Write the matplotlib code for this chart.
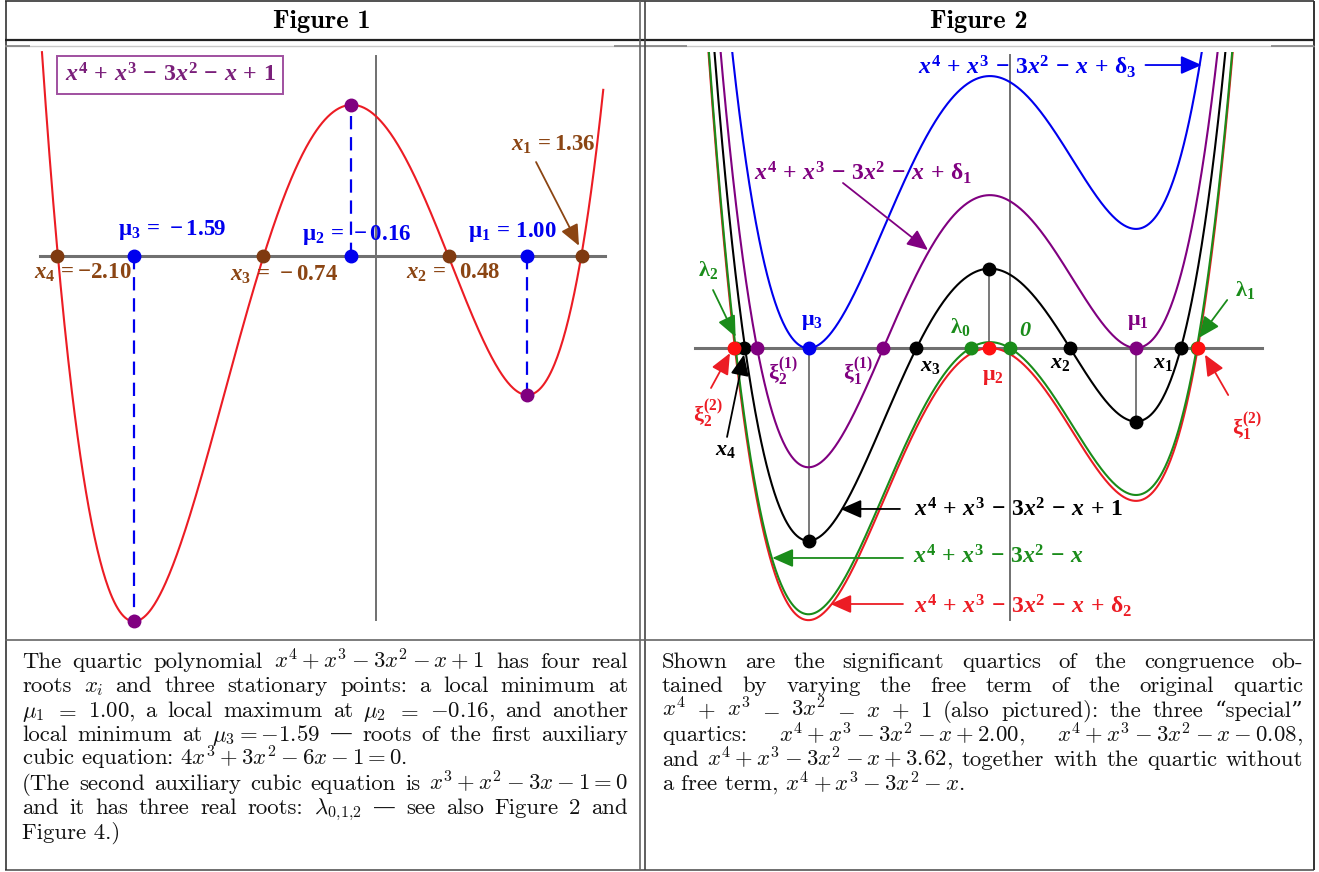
import numpy as np
import matplotlib
matplotlib.use("Agg")
import matplotlib.pyplot as plt

plt.rcParams['font.family'] = 'Liberation Serif'
plt.rcParams['font.weight'] = 'bold'
plt.rcParams['mathtext.fontset'] = 'custom'
plt.rcParams['mathtext.rm'] = 'Liberation Serif:bold'
plt.rcParams['mathtext.it'] = 'Liberation Serif:italic:bold'
plt.rcParams['mathtext.bf'] = 'Liberation Serif:bold'

W, H = 1319, 872

RED = '#ec1c24'
BROWN = '#8b4513'
BLUE = '#0000ee'
PURPLE = '#800080'
GREEN = '#1a8c1a'
GRAY = '#707070'

# x^4 + x^3 - 3x^2 - x, the free term is added on top
g_coef = [1, 1, -3, -1, 0]

# figure 1 : free term 1
f1_free = 1.0
x_roots = [-2.10, -0.74, 0.48, 1.36]
mu_vals = [1.00, -0.16, -1.59]
mu_y = [-1.00, 1.08, -2.62]

# figure 2 : the congruence
free_terms = [-0.08, 0.00, 1.00, 2.00, 3.62]
curve_cols = [RED, GREEN, 'black', PURPLE, BLUE]
lam_vals = [-0.31, 1.48, -2.17]
xi1_vals = [-1.00, -2.00]
xi2_vals = [1.49, -2.18]

cap1 = ["The quartic polynomial $x^4+x^3-3x^2-x+1$ has four real",
        "roots $x_i$ and three stationary points: a local minimum at",
        "$\\mu_1$ $=$ $1.00$, a local maximum at $\\mu_2$ $=$ $-0.16$, and another",
        "local minimum at $\\mu_3=-1.59$ \u2014 roots of the first auxiliary",
        "cubic equation: $4x^3+3x^2-6x-1=0$.",
        "(The second auxiliary cubic equation is $x^3+x^2-3x-1=0$",
        "and it has three real roots: $\\lambda_{0,\\!1,\\!2}$ \u2014 see also Figure 2 and",
        "Figure 4.)"]
cap1_just = [True, True, True, True, False, True, True, False]

cap2 = ["Shown are the significant quartics of the congruence ob-",
        "tained by varying the free term of the original quartic",
        "$x^4$ $+$ $x^3$ $-$ $3x^2$ $-$ $x$ $+$ $1$ (also pictured): the three \u201cspecial\u201d",
        "quartics: $x^4+x^3-3x^2-x+2.00$, $x^4+x^3-3x^2-x-0.08$,",
        "and $x^4+x^3-3x^2-x+3.62$, together with the quartic without",
        "a free term, $x^4+x^3-3x^2-x$."]
cap2_just = [True, True, True, True, True, False]

fig = plt.figure(figsize=(W / 100, H / 100), dpi=100)
bg = fig.add_axes([0, 0, 1, 1])
bg.set_xlim(0, W)
bg.set_ylim(H, 0)
bg.axis('off')

# table frame
def hl(y, x0, x1, c='#333333', lw=1.0):
    bg.plot([x0, x1], [y, y], color=c, lw=lw, solid_capstyle='butt')

def vl(x, y0, y1, c='#333333', lw=1.0):
    bg.plot([x, x], [y0, y1], color=c, lw=lw, solid_capstyle='butt')

hl(1.5, 5, 1314, lw=1.2)
hl(870, 5, 1314, c='#555555', lw=1.2)
vl(5.5, 1.5, 870, lw=1.2)
vl(1313.5, 1.5, 870, lw=1.4)
hl(40.5, 5, 1314, c='#222222', lw=1.6)
hl(46, 5, 1314, c='#c8c8c8', lw=1.0)
for a, b in [(5, 30), (614, 687), (1271, 1314)]:
    hl(46, a, b, c='#808080', lw=1.2)
vl(639.7, 1.5, 870, c='#666666', lw=1.2)
vl(644.7, 1.5, 870, c='#444444', lw=1.2)
hl(640, 5, 1314, c='#666666', lw=1.2)

bg.text(322, 28, 'Figure 1', family='cmb10', weight='normal', fontsize=19,
        ha='center', va='baseline')
bg.text(979, 28, 'Figure 2', family='cmb10', weight='normal', fontsize=19,
        ha='center', va='baseline')

# captions
renderer = fig.canvas.get_renderer()
cap_kw = dict(fontsize=16.4, family=['cmr10', 'DejaVu Serif'], math_fontfamily='cm',
              fontweight='normal', va='baseline', ha='left', color='#111111')

def put_line(s, x0, x1, y, just):
    if not just:
        bg.text(x0, y, s, **cap_kw)
        return
    toks = s.split(' ')
    ts = [bg.text(x0, y, t, **cap_kw) for t in toks]
    ws = [t.get_window_extent(renderer).width for t in ts]
    gap = (x1 - x0 - sum(ws)) / (len(ts) - 1)
    x = x0
    for t, w in zip(ts, ws):
        t.set_x(x)
        x += w + gap

for i, (s, j) in enumerate(zip(cap1, cap1_just)):
    put_line(s, 22, 628, 668 + 24.4 * i, j)
for i, (s, j) in enumerate(zip(cap2, cap2_just)):
    put_line(s, 662, 1303, 668 + 24.4 * i, j)


def px_axes(l, t, r, b):
    ax = fig.add_axes([l / W, 1 - b / H, (r - l) / W, (b - t) / H])
    ax.axis('off')
    return ax

def arrow(ax, start, end, c, lw=1.3, ms=17):
    ax.annotate('', xy=end, xytext=start,
                arrowprops=dict(arrowstyle='-|>,head_length=0.75,head_width=0.33',
                                color=c, lw=lw, shrinkA=0, shrinkB=0, mutation_scale=ms))

def lab(ax, x, y, s, c, fs, **kw):
    ax.text(x, y, s, color=c, fontsize=fs, ha='center', va='center', **kw)

POLY = r'x^4\,+\,x^3\,-\,3x^2\,-\,x'

# ---------------- Figure 1 ----------------
ax1 = px_axes(30, 47, 614, 634)
ax1.set_xlim((30 - 375.7) / 151.7, (614 - 375.7) / 151.7)
ax1.set_ylim((255.5 - 634) / 139.5, (255.5 - 47) / 139.5)

xs = np.linspace(-2.2, 1.5, 600)
f1 = np.array(g_coef[:-1] + [f1_free])
ax1.plot([-2.21, 1.51], [0, 0], color=GRAY, lw=2.2, zorder=1)
ax1.plot([0, 0], [1.43, -2.61], color=GRAY, lw=1.4, zorder=1)
ax1.plot(xs, np.polyval(f1, xs), color=RED, lw=1.5, zorder=2)
for m, my in zip(mu_vals, mu_y):
    ax1.plot([m, m], [0, my], color=BLUE, lw=1.6, ls=(0, (6, 3.5)), zorder=2)
ax1.plot(x_roots, [0] * 4, 'o', color='#7f3a10', ms=9, zorder=4)
ax1.plot(mu_vals, [0] * 3, 'o', color=BLUE, ms=9, zorder=4)
ax1.plot(mu_vals, mu_y, 'o', color=PURPLE, ms=9, zorder=4)

FS1 = 16.5
lab(ax1, -1.343, 0.183, r'$\mathrm{\mu}_3\,=\,-1.59$', BLUE, FS1)
lab(ax1, -0.123, 0.147, r'$\mathrm{\mu}_2\,=\,-0.16$', BLUE, FS1)
lab(ax1, 0.90, 0.168, r'$\mathrm{\mu}_1\,=\,1.00$', BLUE, FS1)
lab(ax1, -1.93, -0.125, r'$x_4\,=-2.10$', BROWN, FS1)
lab(ax1, -0.604, -0.14, r'$x_3\,=\,-0.74$', BROWN, FS1)
lab(ax1, 0.51, -0.125, r'$x_2\,=\;\;0.48$', BROWN, FS1)
lab(ax1, 1.17, 0.79, r'$x_1\,=1.36$', BROWN, FS1)
arrow(ax1, (1.057, 0.67), (1.34, 0.07), BROWN, lw=1.3, ms=17)
lab(ax1, -1.356, 1.294, '$' + POLY + r'\,+\,1$', '#7a1f7a', 17.2,
    bbox=dict(boxstyle='square,pad=0.3', fc='white', ec='#a050a0', lw=1.4))

# ---------------- Figure 2 ----------------
ax2 = px_axes(687, 52, 1271, 634)
ax2.set_xlim((687 - 1009.7) / 126.3, (1271 - 1009.7) / 126.3)
ax2.set_ylim((348 - 634) / 73.5, (348 - 52) / 73.5)

xs2 = np.linspace(-2.6, 2.1, 900)
ax2.plot([-2.49, 2.0], [0, 0], color=GRAY, lw=2.2, zorder=1)
ax2.plot([0, 0], [3.98, -3.70], color=GRAY, lw=1.4, zorder=1)
for c, col in zip(free_terms, curve_cols):
    p = np.array(g_coef[:-1] + [c])
    ax2.plot(xs2, np.polyval(p, xs2), color=col, lw=1.5, zorder=2)

# guide lines at the stationary points
for m, my in zip(mu_vals, mu_y):
    ax2.plot([m, m], [0, my], color='#555555', lw=1.1, zorder=1.5)

ms2 = 9
ax2.plot(lam_vals + [0.0], [0] * 4, 'o', color=GREEN, ms=ms2, zorder=4)
ax2.plot(xi2_vals + [mu_vals[1]], [0] * 3, 'o', color='#ff1010', ms=ms2, zorder=5)
ax2.plot(x_roots, [0] * 4, 'o', color='black', ms=ms2, zorder=4)
ax2.plot(mu_vals, mu_y, 'o', color='black', ms=ms2, zorder=4)
ax2.plot(xi1_vals + [mu_vals[0]], [0] * 3, 'o', color=PURPLE, ms=ms2, zorder=4)
ax2.plot([mu_vals[2]], [0], 'o', color=BLUE, ms=ms2, zorder=4)

FS2 = 17
lab(ax2, 0.137, 3.82, '$' + POLY + r'\,+\,\mathrm{\delta}_3$', BLUE, FS2)
arrow(ax2, (1.075, 3.85), (1.52, 3.85), BLUE)
lab(ax2, -1.162, 2.39, '$' + POLY + r'\,+\,\mathrm{\delta}_1$', PURPLE, FS2)
arrow(ax2, (-1.32, 2.245), (-0.647, 1.333), PURPLE)
lab(ax2, 0.066, -2.20, '$' + POLY + r'\,+\,1$', 'black', FS2)
arrow(ax2, (-0.869, -2.19), (-1.34, -2.19), 'black')
lab(ax2, -0.093, -2.84, '$' + POLY + '$', GREEN, FS2)
arrow(ax2, (-0.845, -2.857), (-1.88, -2.857), GREEN)
lab(ax2, 0.105, -3.50, '$' + POLY + r'\,+\,\mathrm{\delta}_2$', RED, FS2)
arrow(ax2, (-0.845, -3.483), (-1.42, -3.483), RED)

FS3 = 16
lab(ax2, -2.389, 1.06, r'$\mathrm{\lambda}_2$', GREEN, FS3)
arrow(ax2, (-2.349, 0.789), (-2.17, 0.15), GREEN)
lab(ax2, 1.865, 0.79, r'$\mathrm{\lambda}_1$', GREEN, FS3)
arrow(ax2, (1.722, 0.653), (1.50, 0.14), GREEN)
lab(ax2, -1.565, 0.354, r'$\mathrm{\mu}_3$', BLUE, FS3)
lab(ax2, 1.017, 0.354, r'$\mathrm{\mu}_1$', PURPLE, FS3)
lab(ax2, -0.394, 0.286, r'$\mathrm{\lambda}_0$', GREEN, FS3)
lab(ax2, 0.121, 0.231, '0', GREEN, FS3, style='italic')
lab(ax2, -1.80, -0.327, r'$\mathrm{\xi}_2^{(1)}$', PURPLE, FS3)
lab(ax2, -1.20, -0.327, r'$\mathrm{\xi}_1^{(1)}$', PURPLE, FS3)
lab(ax2, -0.632, -0.245, r'$x_3$', 'black', FS3)
lab(ax2, -0.132, -0.395, r'$\mathrm{\mu}_2$', RED, FS3)
lab(ax2, 0.398, -0.204, r'$x_2$', 'black', FS3)
lab(ax2, 1.214, -0.204, r'$x_1$', 'black', FS3)
lab(ax2, -2.389, -0.91, r'$\mathrm{\xi}_2^{(2)}$', RED, FS3)
arrow(ax2, (-2.365, -0.544), (-2.215, -0.07), RED)
lab(ax2, -2.254, -1.39, r'$x_4$', 'black', FS3)
arrow(ax2, (-2.238, -1.21), (-2.104, -0.09), 'black')
lab(ax2, 1.88, -1.075, r'$\mathrm{\xi}_1^{(2)}$', RED, FS3)
arrow(ax2, (1.73, -0.64), (1.546, -0.09), RED)

fig.savefig('out.png', dpi=100)
